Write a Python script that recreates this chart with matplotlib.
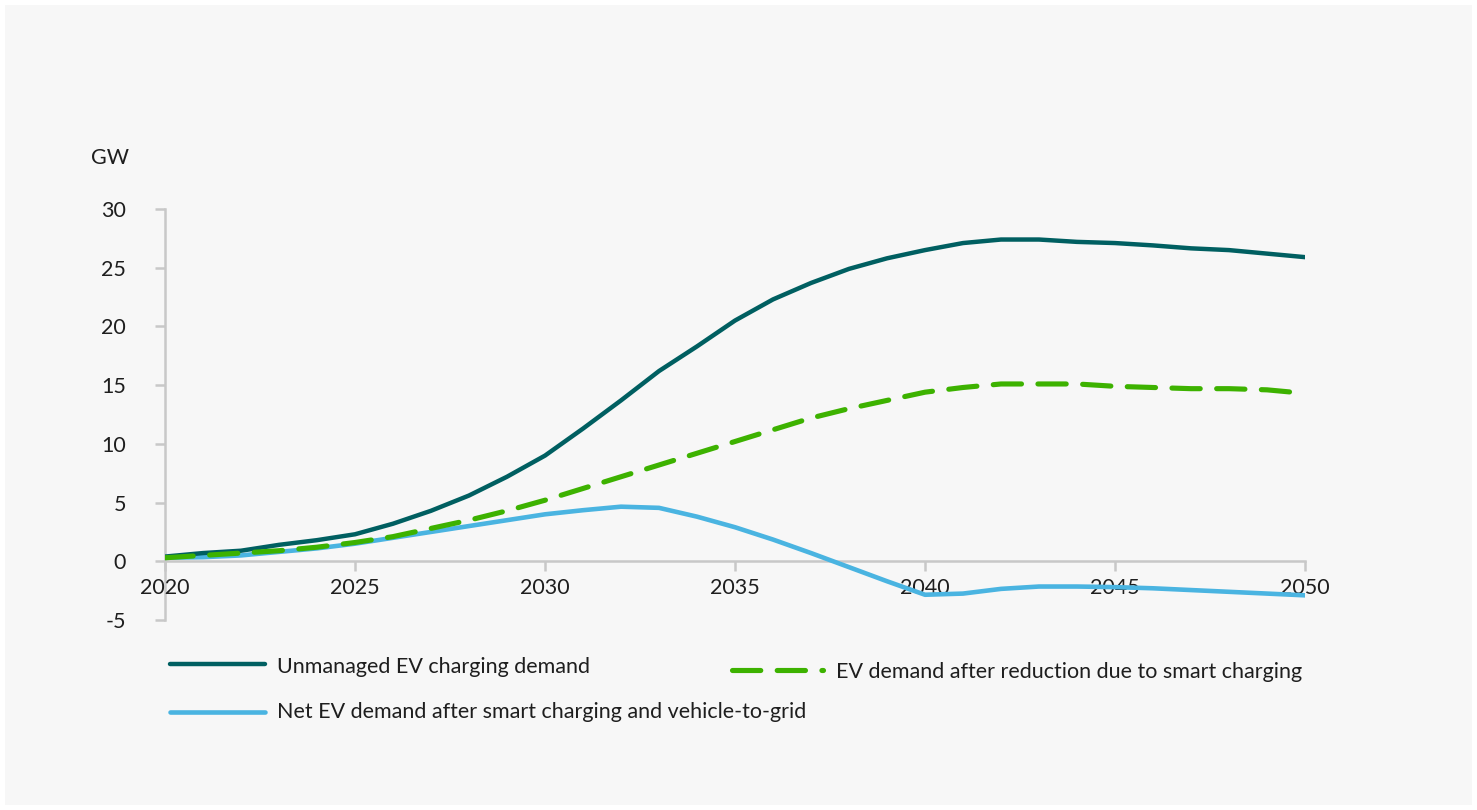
import matplotlib
matplotlib.use("Agg")
import matplotlib.pyplot as plt
from matplotlib.patches import Rectangle
from matplotlib.lines import Line2D

plt.rcParams['font.family'] = ['Lato', 'DejaVu Sans']

years = list(range(2020, 2051))
unmanaged = [0.4, 0.7, 0.9, 1.4, 1.8, 2.3, 3.2, 4.3, 5.6, 7.2, 9.0,
             11.3, 13.7, 16.2, 18.3, 20.5, 22.3, 23.7, 24.9, 25.8, 26.5,
             27.1, 27.4, 27.4, 27.2, 27.1, 26.9, 26.65, 26.5, 26.2, 25.9]
smart = [0.3, 0.5, 0.7, 0.9, 1.2, 1.6, 2.1, 2.8, 3.5, 4.3, 5.2,
         6.2, 7.2, 8.2, 9.2, 10.2, 11.2, 12.2, 13.0, 13.7, 14.4,
         14.8, 15.1, 15.1, 15.1, 14.9, 14.8, 14.7, 14.7, 14.6, 14.3]
net_v2g = [0.3, 0.35, 0.5, 0.8, 1.1, 1.5, 2.0, 2.5, 3.0, 3.5, 4.0,
           4.35, 4.65, 4.55, 3.8, 2.9, 1.85, 0.7, -0.5, -1.7, -2.85,
           -2.75, -2.35, -2.15, -2.15, -2.2, -2.3, -2.45, -2.6, -2.75, -2.9]

labels = ["Unmanaged EV charging demand",
          "EV demand after reduction due to smart charging",
          "Net EV demand after smart charging and vehicle-to-grid"]
colors = ["#005f61", "#3db200", "#4ab4e1"]
yticks = [-5, 0, 5, 10, 15, 20, 25, 30]
xticks = [2020, 2025, 2030, 2035, 2040, 2045, 2050]

W, H = 1477, 810
FS = 15.5
TXT = "#1e1e1e"
fig = plt.figure(figsize=(W / 100, H / 100), dpi=100, facecolor="white")
fig.patches.append(Rectangle((5 / W, 5 / H), 1 - 10 / W, 1 - 10 / H,
                             transform=fig.transFigure, facecolor="#f7f7f7",
                             edgecolor="none", zorder=-10))

ax = fig.add_axes([165 / W, 1 - 620 / H, (1305 - 165) / W, (620 - 209) / H])
ax.set_zorder(5)
ax.set_facecolor("none")

ax.plot(years, unmanaged, color=colors[0], lw=3.2, solid_capstyle="round", zorder=3)
ax.plot(years, net_v2g, color=colors[2], lw=3.3, solid_capstyle="round", zorder=2)
ax.plot(years, smart, color=colors[1], lw=3.7, dashes=(5.5, 3.2),
        dash_capstyle="round", zorder=4)

ax.set_xlim(2020, 2050)
ax.set_ylim(-5, 30)
spine_c = "#c8c8c8"
for s in ["top", "right"]:
    ax.spines[s].set_visible(False)
ax.spines["left"].set_color(spine_c)
ax.spines["left"].set_linewidth(1.8)
ax.spines["bottom"].set_color(spine_c)
ax.spines["bottom"].set_linewidth(1.8)
ax.spines["bottom"].set_position(("data", 0))
ax.spines["left"].set_zorder(1)
ax.spines["bottom"].set_zorder(1)

ax.set_yticks(yticks)
ax.set_yticklabels([str(v) for v in yticks])
ax.set_xticks(xticks)
ax.set_xticklabels([str(v) for v in xticks])
ax.tick_params(axis="y", length=7, width=1.8, color=spine_c, labelsize=FS,
               labelcolor=TXT, pad=21)
ax.tick_params(axis="x", length=7, width=1.8, color=spine_c, labelsize=FS,
               labelcolor=TXT, pad=5, direction="out")

fig.text(91 / W, 1 - 158 / H, "GW", fontsize=FS, color=TXT, va="center", ha="left")

# legend
def leg_line(x0, x1, y, **kw):
    fig.add_artist(Line2D([x0 / W, x1 / W], [1 - y / H, 1 - y / H],
                          transform=fig.transFigure, **kw))

leg_line(170, 265, 664, color=colors[0], lw=3.2, solid_capstyle="round")
fig.text(277 / W, 1 - 667 / H, labels[0], fontsize=FS, color=TXT, va="center")
leg_line(732, 823, 670, color=colors[1], lw=3.7, dashes=(5.5, 3.2), dash_capstyle="round")
fig.text(836 / W, 1 - 672 / H, labels[1], fontsize=FS, color=TXT, va="center")
leg_line(170, 265, 712, color=colors[2], lw=3.3, solid_capstyle="round")
fig.text(277 / W, 1 - 712 / H, labels[2], fontsize=FS, color=TXT, va="center")

fig.savefig("out.png", dpi=100, facecolor=fig.get_facecolor())
